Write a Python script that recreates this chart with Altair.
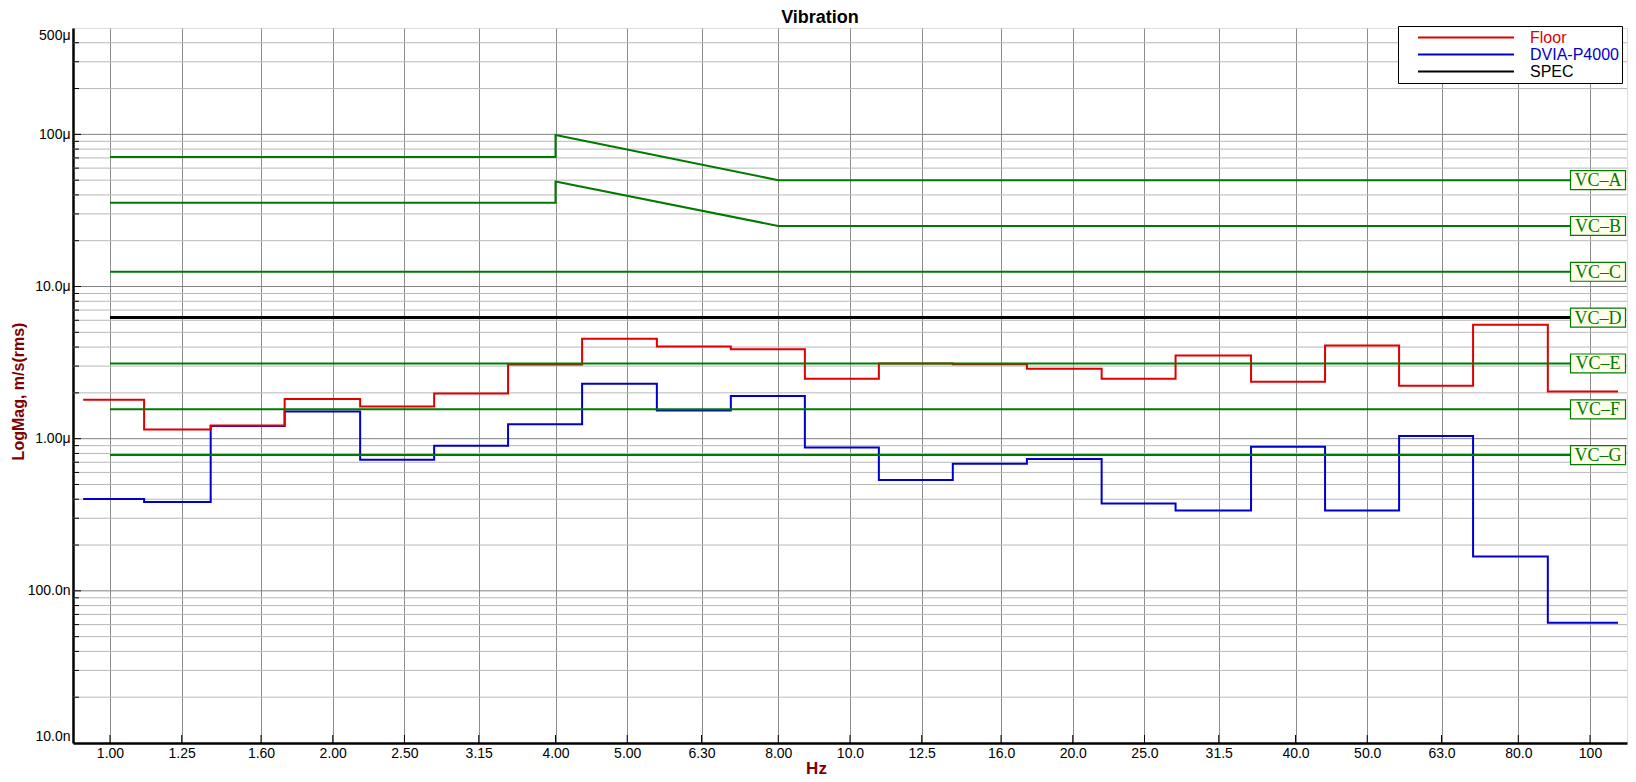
import altair as alt
import pandas as pd

# 1/3-octave band centres on the x axis
band_hz = [1, 1.25, 1.6, 2, 2.5, 3.15, 4, 5, 6.3, 8, 10, 12.5, 16, 20, 25, 31.5, 40, 50, 63, 80, 100]
band_labels = ["1.00", "1.25", "1.60", "2.00", "2.50", "3.15", "4.00", "5.00", "6.30", "8.00",
               "10.0", "12.5", "16.0", "20.0", "25.0", "31.5", "40.0", "50.0", "63.0", "80.0", "100"]

# edges of the measured steps (Hz), one more than the band values
step_edges_hz = [0.92, 1.112, 1.368, 1.722, 2.178, 2.742, 3.451, 4.345, 5.483, 6.902, 8.69,
                 10.94, 13.77, 17.34, 21.88, 27.54, 34.83, 43.85, 55.21, 69.5, 87.7, 109.1]

# band levels, um/s rms
floor_um = [1.80, 1.15, 1.22, 1.82, 1.63, 1.98, 3.07, 4.53, 4.03, 3.87, 2.48,
            3.12, 3.08, 2.88, 2.48, 3.52, 2.37, 4.09, 2.23, 5.60, 2.04]
dvia_um = [0.402, 0.383, 1.21, 1.51, 0.726, 0.897, 1.245, 2.30, 1.53, 1.91, 0.875,
           0.536, 0.683, 0.736, 0.375, 0.337, 0.884, 0.337, 1.043, 0.168, 0.0616]

spec_hz = [1, 100]
spec_um = [6.25, 6.25]

# VC criteria curves
vc_names = ["VC–A", "VC–B", "VC–C", "VC–D", "VC–E", "VC–F", "VC–G"]
vc_level_um = [50, 25, 12.5, 6.25, 3.12, 1.56, 0.78]
vc_a_hz = [1, 4, 4, 8, 100]
vc_a_um = [71, 71, 99, 50, 50]
vc_b_hz = [1, 4, 4, 8, 100]
vc_b_um = [35.5, 35.5, 49, 25, 25]
vc_flat_hz = [1, 100]

y_tick_values = [1e-8, 1e-7, 1e-6, 1e-5, 1e-4, 5e-4]
y_tick_labels = ["10.0n", "100.0n", "1.00μ", "10.0μ", "100μ", "500μ"]

series_names = ["Floor", "DVIA-P4000", "SPEC"]
series_colors = ["#e00000", "#0000cc", "#000000"]
GREEN = "#007a00"
BG = "#ffffeb"
DARKRED = "#800000"
FONT = "Liberation Sans"


def steps(name, levels):
    rows = [{"series": name, "hz": step_edges_hz[i], "v": lv * 1e-6} for i, lv in enumerate(levels)]
    rows.append({"series": name, "hz": step_edges_hz[-1], "v": levels[-1] * 1e-6})
    return pd.DataFrame(rows)


floor_df = steps("Floor", floor_um)
dvia_df = steps("DVIA-P4000", dvia_um)
spec_df = pd.DataFrame({"series": "SPEC", "hz": spec_hz, "v": [u * 1e-6 for u in spec_um]})

vc_rows = []
for i, (h, u) in enumerate(zip(vc_a_hz, vc_a_um)):
    vc_rows.append({"name": "A", "i": i, "hz": h, "v": u * 1e-6})
for i, (h, u) in enumerate(zip(vc_b_hz, vc_b_um)):
    vc_rows.append({"name": "B", "i": i, "hz": h, "v": u * 1e-6})
for n, lv in zip(vc_names[2:], vc_level_um[2:]):
    if n == "VC–D":
        continue  # hidden under SPEC
    for i, h in enumerate(vc_flat_hz):
        vc_rows.append({"name": n, "i": i, "hz": h, "v": lv * 1e-6})
vc_df = pd.DataFrame(vc_rows)
vc_lab_df = pd.DataFrame({"name": vc_names, "v": [u * 1e-6 for u in vc_level_um]})

minor_vals, major_vals = [], []
for e in range(-8, -3):
    for m in range(1, 10):
        v = m * 10.0 ** e
        if v >= 5e-4 or v <= 1e-8:
            continue
        (major_vals if m == 1 else minor_vals).append(v)
minor_df = pd.DataFrame({"v": minor_vals})
major_df = pd.DataFrame({"v": major_vals})
xtick_df = pd.DataFrame({"hz": band_hz})

x_label_expr = "[" + ",".join(f"'{s}'" for s in band_labels) + "][indexof([" + \
    ",".join(str(v) for v in band_hz) + "], datum.value)]"
y_label_expr = "[" + ",".join(f"'{s}'" for s in y_tick_labels) + "][indexof([" + \
    ",".join(repr(v) for v in y_tick_values) + "], datum.value)]"

x_scale = alt.Scale(type="log", domain=[0.8913, 112.2], nice=False)
y_scale = alt.Scale(type="log", domain=[1e-8, 5e-4], nice=False)

x_axis = alt.Axis(values=band_hz, labelExpr=x_label_expr, grid=True, gridColor="#8c8c8c",
                  gridWidth=1, ticks=False, tickSize=0, labelPadding=3, labelFont=FONT,
                  labelFontSize=14, labelColor="black", labelOverlap=False,
                  domainColor="black", domainWidth=2.5, titleColor=DARKRED, titleFont=FONT,
                  titleFontSize=17, titleFontWeight="bold", titleX=743, titleY=25,
                  titleAlign="center", titleBaseline="middle")
y_axis = alt.Axis(values=y_tick_values, labelExpr=y_label_expr, grid=False, ticks=False,
                  tickSize=0, labelPadding=3, labelFont=FONT, labelFontSize=14,
                  labelColor="black", labelOverlap=False, labelFlush=True,
                  domainColor="black", domainWidth=2.5, titleColor=DARKRED, titleFont=FONT,
                  titleFontSize=16, titleFontWeight="bold", titleAngle=270, titleX=-55,
                  titleY=363, titleAlign="center", titleBaseline="middle")


def X(f):
    return alt.X(f"{f}:Q", scale=x_scale, axis=x_axis, title="Hz")


def Y(f):
    return alt.Y(f"{f}:Q", scale=y_scale, axis=y_axis, title="LogMag, m/s(rms)")


color_expr = " : ".join(f"datum.label == '{n}' ? '{c}'" for n, c in zip(series_names[:-1], series_colors[:-1])) \
    + f" : '{series_colors[-1]}'"
color_enc = alt.Color(
    "series:N",
    scale=alt.Scale(domain=series_names, range=series_colors),
    legend=alt.Legend(title=None, orient="none", legendX=1325, legendY=-2, direction="vertical",
                      symbolType="stroke", symbolSize=9216, symbolStrokeWidth=2, clipHeight=17,
                      symbolOffset=16, labelOffset=15, padding=3, rowPadding=0,
                      fillColor="white", strokeColor="black", labelFont=FONT, labelFontSize=16,
                      labelColor=alt.ExprRef(expr=color_expr)),
)

minor_grid = alt.Chart(minor_df).mark_rule(color="#b8b8b8", strokeWidth=1).encode(y=Y("v"))
major_grid = alt.Chart(major_df).mark_rule(color="#808080", strokeWidth=1).encode(y=Y("v"))
x_ticks = alt.Chart(xtick_df).mark_rule(color="black").encode(
    x=X("hz"), y=alt.value(707), y2=alt.value(715))
y_ticks_major = alt.Chart(major_df).mark_rule(color="black").encode(
    y=Y("v"), x=alt.value(0), x2=alt.value(8))
y_ticks_minor = alt.Chart(minor_df).mark_rule(color="black").encode(
    y=Y("v"), x=alt.value(0), x2=alt.value(6))

dvia_line = alt.Chart(dvia_df).mark_line(interpolate="step-after", strokeWidth=2).encode(
    x=X("hz"), y=Y("v"), color=color_enc)
floor_line = alt.Chart(floor_df).mark_line(interpolate="step-after", strokeWidth=2).encode(
    x=X("hz"), y=Y("v"), color=color_enc)
vc_lines = alt.Chart(vc_df).mark_line(color=GREEN, strokeWidth=2).encode(
    x=X("hz"), y=Y("v"), detail="name:N", order="i:Q")
spec_line = alt.Chart(spec_df).mark_line(strokeWidth=3).encode(
    x=X("hz"), y=Y("v"), color=color_enc)

vc_boxes = alt.Chart(vc_lab_df).mark_point(
    shape="M-1,-0.345L1,-0.345L1,0.345L-1,0.345Z", size=3025, filled=True, fill=BG,
    stroke=GREEN, strokeWidth=1.2, opacity=1).encode(x=alt.value(1525), y=Y("v"))
vc_text = alt.Chart(vc_lab_df).mark_text(
    font="Liberation Serif", fontSize=18, color=GREEN, align="center", baseline="middle", dy=1
).encode(x=alt.value(1525), y=Y("v"), text="name:N")

# the page margin leaves no room above y=8, so the title sits just below it
title_text = alt.Chart(pd.DataFrame({"t": ["Vibration"]})).mark_text(
    font=FONT, fontSize=18, fontWeight="bold", color="black", align="center",
    baseline="alphabetic"
).encode(x=alt.value(747), y=alt.value(-5), text="t:N")

chart = alt.layer(
    minor_grid, major_grid, x_ticks, y_ticks_major, y_ticks_minor,
    dvia_line, floor_line, vc_lines, spec_line, vc_boxes, vc_text, title_text
).properties(
    width=1554, height=715,
    autosize=alt.AutoSizeParams(type="none"),
    padding={"left": 65, "top": 20, "right": 1, "bottom": 35},
).configure_view(fill=BG, stroke=None).configure(background="white")

chart.save("out.html", embed_options={"renderer": "svg", "actions": False})
